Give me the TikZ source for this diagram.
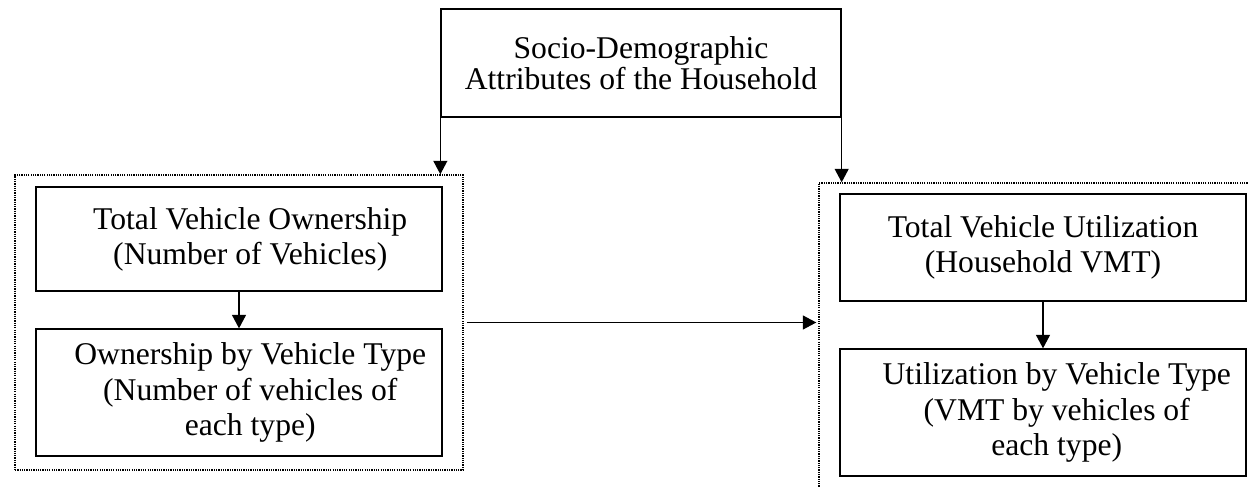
\documentclass[tikz,border=0pt]{standalone}
\usepackage{fontspec}
\setmainfont{Liberation Serif}
\usetikzlibrary{arrows.meta,positioning,calc}

\begin{document}
\begin{tikzpicture}[
  x=1cm,y=1cm,
  box/.style={draw, line width=0.75pt, align=center, minimum width=8.12cm, inner sep=2pt, font=\fontsize{18}{20}\selectfont},
  group/.style={draw, line width=0.8pt, dash pattern=on 0.7pt off 0.6pt},
  arr/.style={-{Triangle[length=0.27cm,width=0.28cm]}, line width=0.75pt}
]
\clip (0,0) rectangle (24.98,-9.74);
\useasboundingbox (0,0) rectangle (24.98,-9.74);
% attributes box
\node[box, minimum width=8.0cm, minimum height=2.16cm, font=\fontsize{18}{17.5}\selectfont] (socio) at (12.82,-1.26) {Socio-Demographic\\Attributes of the Household};
% ownership side
\node[group, minimum width=8.96cm, minimum height=5.90cm] (lgrp) at (4.78,-6.45) {};
\node[box, minimum height=2.08cm] (own) at (4.78,-4.78) {\hspace*{0.45cm}Total Vehicle Ownership\\\hspace*{0.45cm}(Number of Vehicles)};
\node[box, minimum height=2.54cm] (owntype) at (4.78,-7.85) {\hspace*{0.45cm}Ownership by Vehicle Type\\\hspace*{0.45cm}(Number of vehicles of\\\hspace*{0.45cm}each type)};
% utilization side
\node[group, minimum width=9.02cm, minimum height=6.34cm] (rgrp) at (20.89,-6.83) {};
\node[box, minimum height=2.14cm] (util) at (20.86,-4.95) {Total Vehicle Utilization\\(Household VMT)};
\node[box, minimum height=2.54cm] (utiltype) at (20.86,-8.25) {\hspace*{0.55cm}Utilization by Vehicle Type\\\hspace*{0.55cm}(VMT by vehicles of\\\hspace*{0.55cm}each type)};
% connectors
\draw[arr] (socio.south west) -- (socio.south west |- lgrp.north);
\draw[arr] (socio.south east) -- (socio.south east |- rgrp.north);
\draw[arr] (own) -- (owntype);
\draw[arr] (util) -- (utiltype);
\draw[arr, shorten <=0.07cm, shorten >=0.04cm] (lgrp.east) -- (lgrp.east -| rgrp.west);
\end{tikzpicture}
\end{document}
